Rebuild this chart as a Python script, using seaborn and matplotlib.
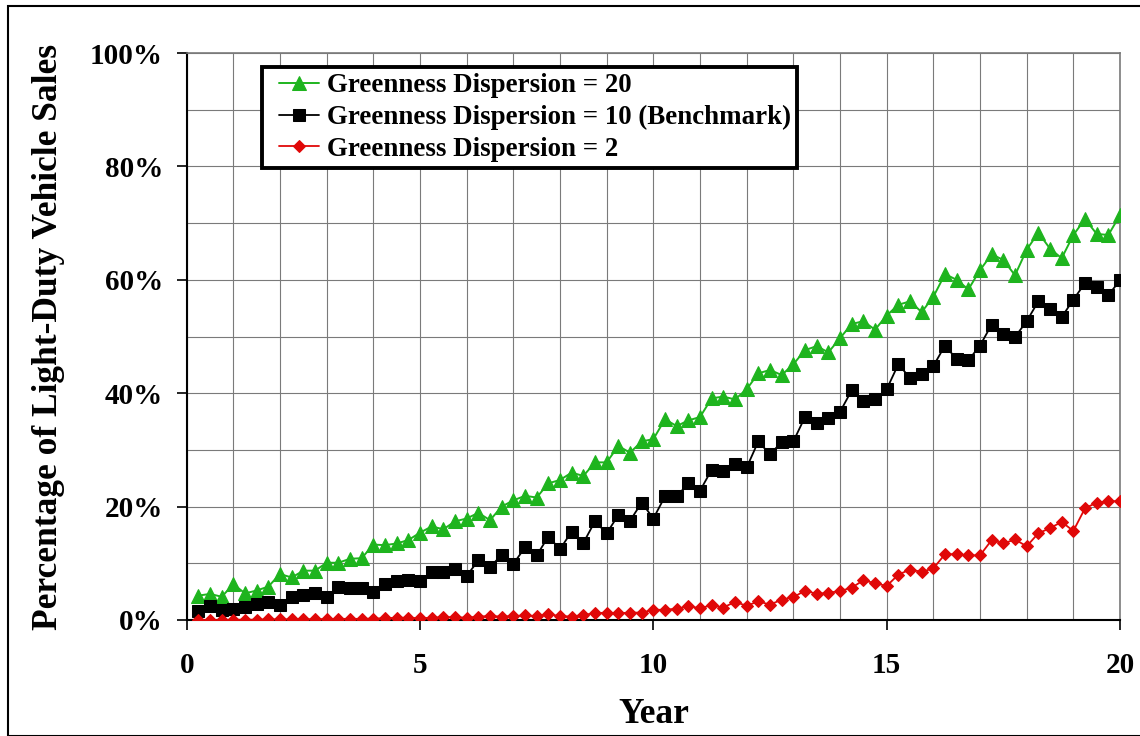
import matplotlib
matplotlib.use("Agg")
import matplotlib.pyplot as plt
import seaborn as sns
from matplotlib.ticker import MultipleLocator, FuncFormatter
from matplotlib.patches import Rectangle
from matplotlib.legend_handler import HandlerLine2D
from matplotlib.lines import Line2D

# ---------------- data ----------------
years = [q / 4 for q in range(1, 81)]

green_20 = [4.3, 4.6, 4.1, 6.3, 4.7, 5.2, 5.9, 8.1, 7.5, 8.7, 8.7, 10.1, 10.1, 10.8, 10.9, 13.3,
            13.2, 13.5, 14.1, 15.4, 16.5, 16.0, 17.4, 17.9, 18.9, 17.6, 20.0, 21.1, 21.9, 21.6, 24.1, 24.7,
            26.0, 25.4, 27.8, 27.8, 30.7, 29.5, 31.5, 31.9, 35.4, 34.2, 35.2, 35.8, 39.1, 39.4, 38.9, 40.7,
            43.5, 44.1, 43.2, 45.1, 47.6, 48.3, 47.2, 49.7, 52.2, 52.7, 51.2, 53.7, 55.6, 56.2, 54.3, 57.0,
            61.0, 60.0, 58.3, 61.7, 64.5, 63.5, 60.8, 65.3, 68.3, 65.5, 63.8, 67.9, 70.7, 68.1, 67.9, 71.4]

black_10 = [1.6, 2.5, 1.8, 1.9, 2.3, 2.9, 3.1, 2.6, 4.1, 4.4, 4.8, 4.1, 5.8, 5.6, 5.6, 5.0,
            6.4, 6.8, 7.1, 6.9, 8.5, 8.4, 9.0, 7.8, 10.5, 9.3, 11.5, 9.9, 12.8, 11.4, 14.7, 12.5,
            15.6, 13.6, 17.4, 15.3, 18.5, 17.5, 20.7, 17.9, 21.8, 21.8, 24.1, 22.8, 26.5, 26.2, 27.5, 26.9,
            31.5, 29.2, 31.4, 31.5, 35.8, 34.8, 35.6, 36.7, 40.5, 38.6, 38.9, 40.7, 45.1, 42.7, 43.4, 44.8,
            48.4, 46.0, 45.8, 48.4, 52.1, 50.4, 49.9, 52.7, 56.2, 54.9, 53.4, 56.5, 59.4, 58.7, 57.3, 59.9]

red_2 = [0.0, 0.0, 0.0, 0.05, 0.05, 0.05, 0.1, 0.1, 0.1, 0.1, 0.15, 0.15, 0.2, 0.2, 0.2, 0.25,
         0.3, 0.4, 0.4, 0.3, 0.4, 0.5, 0.5, 0.4, 0.6, 0.7, 0.6, 0.7, 0.8, 0.7, 1.0, 0.7,
         0.6, 0.9, 1.2, 1.3, 1.2, 1.3, 1.3, 1.8, 1.8, 2.0, 2.4, 2.1, 2.6, 2.2, 3.2, 2.5,
         3.3, 2.7, 3.6, 4.0, 5.2, 4.6, 4.8, 5.1, 5.7, 7.0, 6.5, 6.0, 8.0, 8.9, 8.5, 9.1,
         11.6, 11.6, 11.4, 11.4, 14.1, 13.5, 14.2, 13.0, 15.3, 16.2, 17.3, 15.7, 19.7, 20.7, 20.9, 21.0]

labels = ["Greenness Dispersion = 20",
          "Greenness Dispersion = 10 (Benchmark)",
          "Greenness Dispersion = 2"]

x_ticks = [0, 5, 10, 15, 20]
y_ticks = [0, 20, 40, 60, 80, 100]

# ---------------- style ----------------
sns.set_theme(style="white")
plt.rcParams["font.family"] = ["Liberation Serif", "DejaVu Serif"]
plt.rcParams["font.weight"] = "bold"
plt.rcParams["text.color"] = "black"
plt.rcParams["axes.labelcolor"] = "black"
plt.rcParams["xtick.color"] = "black"
plt.rcParams["ytick.color"] = "black"

GREEN = "#1EB41E"
BLACK = "#000000"
RED = "#E00808"
GRID = "#7a7a7a"

fig = plt.figure(figsize=(11.4, 7.36), dpi=100)
fig.patch.set_facecolor("white")
ax = fig.add_axes([186.7 / 1140, 1 - 620 / 736, (1120 - 186.7) / 1140, (620 - 53) / 736])

sns.lineplot(x=years, y=green_20, ax=ax, color=GREEN, marker="^", markersize=9.6,
             markeredgecolor=GREEN, linewidth=1.4, label=labels[0], zorder=3)
sns.lineplot(x=years, y=black_10, ax=ax, color=BLACK, marker="s", markersize=8.4,
             markeredgecolor=BLACK, linewidth=1.3, label=labels[1], zorder=4)
sns.lineplot(x=years, y=red_2, ax=ax, color=RED, marker="D", markersize=6.1,
             markeredgecolor=RED, linewidth=1.3, label=labels[2], zorder=5)

ax.set_xlim(0, 20)
ax.set_ylim(0, 100)
ax.set_xticks(x_ticks)
ax.set_yticks(y_ticks)
ax.xaxis.set_minor_locator(MultipleLocator(1))
ax.yaxis.set_minor_locator(MultipleLocator(10))
ax.yaxis.set_major_formatter(FuncFormatter(lambda v, p: f"{int(v)}%"))

ax.grid(True, which="both", color=GRID, linewidth=0.8)
ax.set_axisbelow(True)
ax.tick_params(axis="both", which="major", direction="out", length=7, width=1.2,
               color="black", labelcolor="black", labelsize=21, bottom=True, left=True)
ax.tick_params(axis="y", which="major", pad=10)
ax.tick_params(axis="x", which="major", pad=16)
ax.tick_params(axis="both", which="minor", length=0)
for lab in ax.get_xticklabels() + ax.get_yticklabels():
    lab.set_fontweight("bold")

for side in ["left", "bottom"]:
    ax.spines[side].set_color("black")
    ax.spines[side].set_linewidth(1.5)
for side in ["top", "right"]:
    ax.spines[side].set_color(GRID)
    ax.spines[side].set_linewidth(1.2)

ax.set_xlabel("Year", fontsize=25.5, fontweight="bold", labelpad=14, color="black")
ax.set_ylabel("Percentage of Light-Duty Vehicle Sales", fontsize=25.5, fontweight="bold",
              labelpad=18, color="black")

LEG_FS = 19.4
handler = HandlerLine2D(xpad=0.38)
leg = ax.legend(loc="upper left", bbox_to_anchor=((262 - 186.7) / 933.3, (620 - 66.7) / 567),
                borderaxespad=0, frameon=True, fancybox=False, framealpha=1,
                edgecolor="black", handlelength=1.85, handletextpad=0.3,
                labelspacing=0.24, borderpad=0.25, prop={"size": LEG_FS, "weight": "bold"},
                handler_map={Line2D: handler})
leg.get_frame().set_linewidth(2.8)
for t in leg.get_texts():
    t.set_color("black")

fig.add_artist(Rectangle((8 / 1140, 0), 1.2, 1 - 6 / 736, transform=fig.transFigure,
                         fill=False, edgecolor="black", linewidth=1.5))

fig.savefig("out.png", dpi=100, facecolor="white")
